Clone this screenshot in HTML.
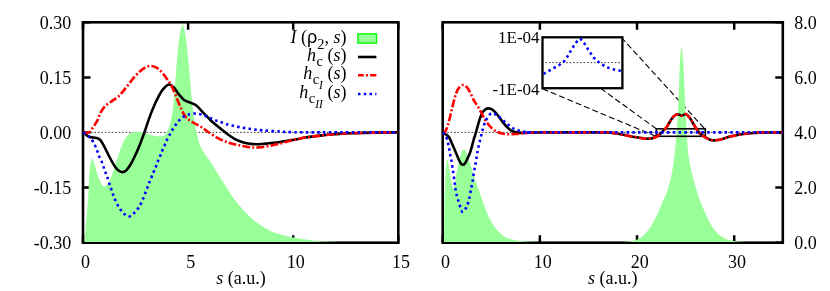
<!DOCTYPE html>
<html><head><meta charset="utf-8"><title>plot</title>
<style>html,body{margin:0;padding:0;background:#fff;}svg{display:block;will-change:transform;}text{font-family:"Liberation Serif",serif;fill:#000;}.sans{font-family:"Liberation Sans",sans-serif;}</style>
</head><body>
<svg width="830" height="291" viewBox="0 0 830 291">
<rect x="0" y="0" width="830" height="291" fill="#ffffff"/>
<path d="M83.00,242.70V235.20 M83.00,22.30V29.80 M188.10,242.70V235.20 M188.10,22.30V29.80 M293.20,242.70V235.20 M293.20,22.30V29.80 M398.30,242.70V235.20 M398.30,22.30V29.80 M83.00,22.30H90.50 M83.00,77.40H90.50 M83.00,132.50H90.50 M83.00,187.60H90.50 M83.00,242.70H90.50 " stroke="#000" stroke-width="2.50" fill="none"/><rect x="83.00" y="22.30" width="315.30" height="220.40" fill="none" stroke="#000" stroke-width="2.60"/>
<path d="M84.00,132.40H398.30" stroke="#222" stroke-width="0.9" stroke-dasharray="1.6 1.87" fill="none"/>
<path d="M84.60,242.10 C84.75,240.08 84.93,237.02 85.50,230.00 C86.07,222.98 87.47,207.00 88.00,200.00 C88.53,193.00 88.52,192.02 88.70,188.00 C88.88,183.98 88.82,179.73 89.10,175.90 C89.38,172.07 90.00,167.65 90.40,165.00 C90.80,162.35 91.18,161.12 91.50,160.00 C91.82,158.88 92.17,158.58 92.30,158.30 C92.45,158.58 92.79,158.88 93.20,160.00 C93.61,161.12 93.97,162.35 94.75,165.00 C95.53,167.65 96.86,172.90 97.90,175.90 C98.94,178.90 99.95,181.22 101.00,183.00 C102.05,184.78 103.12,186.43 104.20,186.60 C105.28,186.77 106.27,185.78 107.50,184.00 C108.73,182.22 110.18,179.48 111.60,175.90 C113.02,172.32 114.64,166.61 116.00,162.50 C117.36,158.39 118.40,154.92 119.75,151.25 C121.10,147.58 122.69,143.21 124.10,140.50 C125.51,137.79 126.88,136.32 128.20,135.00 C129.52,133.68 130.53,133.13 132.00,132.60 C133.47,132.07 135.33,131.85 137.00,131.80 C138.67,131.75 140.33,131.97 142.00,132.30 C143.67,132.63 145.32,133.30 147.00,133.80 C148.68,134.30 150.00,134.85 152.10,135.30 C154.20,135.75 157.58,136.50 159.60,136.50 C161.62,136.50 162.93,136.13 164.20,135.30 C165.47,134.47 166.20,133.52 167.20,131.50 C168.20,129.48 169.32,126.60 170.20,123.20 C171.08,119.80 171.83,115.63 172.50,111.10 C173.17,106.57 173.68,101.52 174.20,96.00 C174.72,90.48 175.08,84.67 175.60,78.00 C176.12,71.33 176.62,63.17 177.30,56.00 C177.98,48.83 178.80,40.45 179.70,35.00 C180.60,29.55 182.20,25.25 182.70,23.30 C183.17,25.25 184.63,29.55 185.50,35.00 C186.37,40.45 187.13,48.72 187.90,56.00 C188.67,63.28 189.50,72.03 190.10,78.70 C190.70,85.37 191.07,91.12 191.50,96.00 C191.93,100.88 192.22,104.00 192.70,108.00 C193.18,112.00 193.88,116.62 194.40,120.00 C194.92,123.38 195.30,125.55 195.80,128.30 C196.30,131.05 196.72,133.75 197.40,136.50 C198.08,139.25 198.85,142.22 199.90,144.80 C200.95,147.38 202.28,149.67 203.70,152.00 C205.12,154.33 206.60,156.08 208.40,158.80 C210.20,161.52 212.43,165.00 214.50,168.30 C216.57,171.60 218.58,175.05 220.80,178.60 C223.02,182.15 225.53,186.10 227.80,189.60 C230.07,193.10 231.90,196.28 234.40,199.60 C236.90,202.92 240.20,206.62 242.80,209.50 C245.40,212.38 247.20,214.38 250.00,216.90 C252.80,219.42 256.40,222.35 259.60,224.60 C262.80,226.85 265.67,228.73 269.20,230.40 C272.73,232.07 276.78,233.40 280.80,234.60 C284.82,235.80 289.13,236.77 293.30,237.60 C297.47,238.43 301.35,239.00 305.80,239.60 C310.25,240.20 314.30,240.82 320.00,241.20 C325.70,241.58 335.00,241.75 340.00,241.90 C345.00,242.05 348.33,242.07 350.00,242.10 Z" fill="#99ff99" stroke="none"/>
<path d="M83.30,132.50 C83.58,132.68 84.22,132.97 85.00,133.60 C85.78,134.23 86.90,135.67 88.00,136.30 C89.10,136.93 90.22,137.13 91.60,137.40 C92.97,137.67 94.78,137.43 96.25,137.90 C97.72,138.37 98.98,138.60 100.40,140.20 C101.82,141.80 103.19,144.62 104.75,147.50 C106.31,150.38 108.08,154.38 109.75,157.50 C111.42,160.62 113.29,164.07 114.75,166.25 C116.21,168.43 117.25,169.62 118.50,170.60 C119.75,171.57 121.00,172.10 122.25,172.10 C123.50,172.10 124.54,171.99 126.00,170.60 C127.46,169.21 129.33,166.56 131.00,163.75 C132.67,160.94 134.54,156.88 136.00,153.75 C137.46,150.62 138.78,147.38 139.75,145.00 C140.72,142.62 141.01,141.62 141.80,139.50 C142.59,137.38 143.55,135.02 144.50,132.30 C145.45,129.58 146.37,126.48 147.50,123.20 C148.63,119.92 150.03,115.87 151.30,112.60 C152.57,109.33 154.17,105.73 155.10,103.60 C156.03,101.47 155.85,101.82 156.90,99.80 C157.95,97.78 159.90,93.77 161.40,91.50 C162.90,89.23 164.52,87.37 165.90,86.20 C167.28,85.03 168.30,84.20 169.70,84.50 C171.10,84.80 172.75,86.32 174.30,88.00 C175.85,89.68 177.37,92.60 179.00,94.60 C180.63,96.60 182.28,98.68 184.10,100.00 C185.92,101.32 187.97,101.67 189.90,102.50 C191.83,103.33 193.45,103.28 195.70,105.00 C197.95,106.72 200.97,110.30 203.40,112.80 C205.83,115.30 208.03,117.83 210.30,120.00 C212.57,122.17 214.80,123.97 217.00,125.80 C219.20,127.63 221.50,129.43 223.50,131.00 C225.50,132.57 227.17,133.90 229.00,135.20 C230.83,136.50 232.67,137.78 234.50,138.80 C236.33,139.82 238.17,140.60 240.00,141.30 C241.83,142.00 243.75,142.57 245.50,143.00 C247.25,143.43 248.77,143.70 250.50,143.90 C252.23,144.10 253.98,144.18 255.90,144.20 C257.82,144.22 259.88,144.15 262.00,144.00 C264.12,143.85 265.60,143.63 268.60,143.30 C271.60,142.97 276.70,142.45 280.00,142.00 C283.30,141.55 285.58,141.07 288.40,140.60 C291.22,140.13 294.08,139.72 296.90,139.20 C299.72,138.68 302.50,137.97 305.30,137.50 C308.10,137.03 310.88,136.75 313.70,136.40 C316.52,136.05 319.38,135.72 322.20,135.40 C325.02,135.08 327.80,134.75 330.60,134.50 C333.40,134.25 335.77,134.10 339.00,133.90 C342.23,133.70 346.17,133.47 350.00,133.30 C353.83,133.13 357.83,133.02 362.00,132.90 C366.17,132.78 369.00,132.68 375.00,132.60 C381.00,132.52 394.17,132.43 398.00,132.40" stroke="#000" stroke-width="2.60" fill="none" stroke-linejoin="round"/>
<path d="M83.30,132.60 C83.88,132.63 85.68,132.97 86.80,132.80 C87.92,132.63 88.83,132.70 90.00,131.60 C91.17,130.50 92.53,128.10 93.80,126.20 C95.07,124.30 96.50,122.40 97.60,120.20 C98.70,118.00 99.23,115.27 100.40,113.00 C101.57,110.73 103.20,108.22 104.60,106.60 C106.00,104.98 107.58,104.22 108.80,103.30 C110.02,102.38 110.30,102.23 111.90,101.10 C113.50,99.97 116.52,98.15 118.40,96.50 C120.28,94.85 121.52,93.22 123.20,91.20 C124.88,89.18 126.73,86.67 128.50,84.40 C130.27,82.13 131.92,79.75 133.80,77.60 C135.68,75.45 137.93,73.17 139.80,71.50 C141.67,69.83 143.23,68.53 145.00,67.60 C146.77,66.67 148.42,65.87 150.40,65.90 C152.38,65.93 154.82,66.55 156.90,67.80 C158.98,69.05 161.08,71.33 162.90,73.40 C164.72,75.47 166.28,77.93 167.80,80.20 C169.32,82.47 170.57,84.17 172.00,87.00 C173.43,89.83 174.87,93.57 176.40,97.20 C177.93,100.83 179.62,105.47 181.20,108.80 C182.78,112.13 184.05,115.00 185.90,117.20 C187.75,119.40 189.95,120.50 192.30,122.00 C194.65,123.50 197.45,124.62 200.00,126.20 C202.55,127.78 204.47,129.42 207.60,131.50 C210.73,133.58 215.00,136.75 218.80,138.70 C222.60,140.65 226.87,142.08 230.40,143.20 C233.93,144.32 236.80,144.73 240.00,145.40 C243.20,146.07 246.38,146.87 249.60,147.20 C252.82,147.53 255.77,147.67 259.30,147.40 C262.83,147.13 267.35,146.23 270.80,145.60 C274.25,144.97 277.07,144.33 280.00,143.60 C282.93,142.87 285.58,141.93 288.40,141.20 C291.22,140.47 294.08,139.82 296.90,139.20 C299.72,138.58 302.50,137.97 305.30,137.50 C308.10,137.03 310.88,136.75 313.70,136.40 C316.52,136.05 319.38,135.72 322.20,135.40 C325.02,135.08 327.80,134.75 330.60,134.50 C333.40,134.25 335.77,134.10 339.00,133.90 C342.23,133.70 346.17,133.47 350.00,133.30 C353.83,133.13 357.83,133.02 362.00,132.90 C366.17,132.78 369.00,132.68 375.00,132.60 C381.00,132.52 394.17,132.43 398.00,132.40" stroke="#ff0000" stroke-width="2.60" fill="none" stroke-dasharray="7.9 2.15 2.0 2.15"/>
<path d="M83.30,132.50 C83.58,132.68 84.22,133.08 85.00,133.60 C85.78,134.12 86.96,134.74 88.00,135.60 C89.04,136.46 90.12,137.18 91.25,138.75 C92.38,140.32 93.75,142.96 94.75,145.00 C95.75,147.04 96.53,149.12 97.25,151.00 C97.97,152.88 98.38,154.50 99.10,156.25 C99.82,158.00 100.87,159.72 101.60,161.50 C102.33,163.28 102.87,165.11 103.50,166.90 C104.13,168.69 104.82,170.68 105.40,172.25 C105.98,173.82 106.10,173.68 107.00,176.30 C107.90,178.93 109.52,184.28 110.80,188.00 C112.08,191.72 113.25,195.23 114.70,198.60 C116.15,201.97 117.90,205.63 119.50,208.20 C121.10,210.77 122.68,212.62 124.30,214.00 C125.92,215.38 127.58,216.63 129.20,216.50 C130.82,216.37 132.40,214.73 134.00,213.20 C135.60,211.67 137.35,209.57 138.80,207.30 C140.25,205.03 141.42,202.50 142.70,199.60 C143.98,196.70 145.30,193.00 146.50,189.90 C147.70,186.80 148.73,183.94 149.90,181.00 C151.07,178.06 152.48,174.67 153.50,172.25 C154.52,169.83 155.27,168.33 156.00,166.50 C156.73,164.67 157.17,163.07 157.90,161.25 C158.63,159.43 159.68,157.38 160.40,155.60 C161.12,153.82 161.53,152.37 162.25,150.60 C162.97,148.83 163.92,146.88 164.75,145.00 C165.58,143.12 166.34,141.17 167.25,139.30 C168.16,137.43 169.21,135.60 170.20,133.80 C171.19,132.00 172.18,130.13 173.20,128.50 C174.22,126.87 175.17,125.48 176.30,124.00 C177.43,122.52 178.72,120.88 180.00,119.60 C181.28,118.32 182.53,117.17 184.00,116.30 C185.47,115.43 186.90,114.87 188.80,114.40 C190.70,113.93 193.32,113.48 195.40,113.50 C197.48,113.52 199.35,114.00 201.30,114.50 C203.25,115.00 205.17,115.72 207.10,116.50 C209.03,117.28 210.97,118.38 212.90,119.20 C214.83,120.02 216.62,120.65 218.70,121.40 C220.78,122.15 223.17,123.00 225.40,123.70 C227.63,124.40 229.67,125.02 232.10,125.60 C234.53,126.18 236.85,126.63 240.00,127.20 C243.15,127.77 247.15,128.47 251.00,129.00 C254.85,129.53 258.33,130.00 263.10,130.40 C267.87,130.80 275.12,131.12 279.60,131.40 C284.08,131.68 283.27,131.93 290.00,132.10 C296.73,132.27 302.00,132.35 320.00,132.40 C338.00,132.45 385.00,132.40 398.00,132.40" stroke="#0000ff" stroke-width="2.60" fill="none" stroke-dasharray="2.5 3.25"/>
<path d="M442.70,242.70V235.20 M442.70,22.30V29.80 M539.87,242.70V235.20 M539.87,22.30V29.80 M637.04,242.70V235.20 M637.04,22.30V29.80 M734.21,242.70V235.20 M734.21,22.30V29.80 M782.80,22.30H775.30 M782.80,77.40H775.30 M782.80,132.50H775.30 M782.80,187.60H775.30 M782.80,242.70H775.30 " stroke="#000" stroke-width="2.50" fill="none"/><rect x="442.70" y="22.30" width="340.10" height="220.40" fill="none" stroke="#000" stroke-width="2.60"/>
<path d="M542.50,88.80L656.30,136.50 M542.50,46.00L656.30,128.80 M621.20,37.30L704.70,128.80" stroke="#000" stroke-width="1.1" stroke-dasharray="6 3" fill="none"/>
<path d="M443.70,132.40H782.80" stroke="#222" stroke-width="0.9" stroke-dasharray="1.6 1.87" fill="none"/>
<path d="M444.20,242.10 C444.27,235.08 444.40,211.02 444.60,200.00 C444.80,188.98 445.13,181.83 445.40,176.00 C445.67,170.17 445.97,167.57 446.20,165.00 C446.43,162.43 446.62,161.62 446.80,160.60 C446.98,159.58 447.12,158.90 447.30,158.90 C447.48,158.90 447.68,159.58 447.90,160.60 C448.12,161.62 448.18,162.43 448.60,165.00 C449.02,167.57 449.83,172.83 450.40,176.00 C450.97,179.17 451.48,181.93 452.00,184.00 C452.52,186.07 453.00,188.40 453.50,188.40 C454.00,188.40 454.58,186.07 455.00,184.00 C455.42,181.93 455.40,179.57 456.00,176.00 C456.60,172.43 457.75,166.30 458.60,162.60 C459.45,158.90 460.45,155.80 461.10,153.80 C461.75,151.80 462.05,151.32 462.50,150.60 C462.95,149.88 463.35,149.50 463.80,149.50 C464.25,149.50 464.62,149.68 465.20,150.60 C465.78,151.52 466.42,152.60 467.30,155.00 C468.18,157.40 469.38,161.50 470.50,165.00 C471.62,168.50 472.53,171.68 474.00,176.00 C475.47,180.32 477.58,185.95 479.30,190.90 C481.02,195.85 482.65,201.17 484.30,205.70 C485.95,210.23 487.35,214.38 489.20,218.10 C491.05,221.82 493.13,225.12 495.40,228.00 C497.67,230.88 500.32,233.55 502.80,235.40 C505.28,237.25 507.40,238.18 510.30,239.10 C513.20,240.02 516.08,240.45 520.20,240.90 C524.32,241.35 530.87,241.60 535.00,241.80 C539.13,242.00 543.33,242.05 545.00,242.10 Z" fill="#99ff99" stroke="none"/>
<path d="M622.00,242.10 C623.65,241.92 628.97,241.65 631.90,241.00 C634.83,240.35 637.35,239.47 639.60,238.20 C641.85,236.93 643.47,235.48 645.40,233.40 C647.33,231.32 649.27,228.75 651.20,225.70 C653.13,222.65 655.07,219.12 657.00,215.10 C658.93,211.08 661.03,205.78 662.80,201.60 C664.57,197.42 666.07,194.83 667.60,190.00 C669.13,185.17 670.82,178.72 672.00,172.60 C673.18,166.48 673.95,159.73 674.70,153.30 C675.45,146.87 676.02,139.88 676.50,134.00 C676.98,128.12 677.20,125.33 677.60,118.00 C678.00,110.67 678.53,98.83 678.90,90.00 C679.27,81.17 679.45,71.67 679.80,65.00 C680.15,58.33 680.70,53.03 681.00,50.00 C681.30,46.97 681.50,47.33 681.60,46.80 C681.70,47.33 681.90,46.97 682.20,50.00 C682.50,53.03 683.00,58.33 683.40,65.00 C683.80,71.67 684.18,81.17 684.60,90.00 C685.02,98.83 685.52,110.67 685.90,118.00 C686.28,125.33 686.52,128.12 686.90,134.00 C687.28,139.88 687.40,146.87 688.20,153.30 C689.00,159.73 690.32,166.48 691.70,172.60 C693.08,178.72 695.05,185.17 696.50,190.00 C697.95,194.83 698.95,197.75 700.40,201.60 C701.85,205.45 703.43,209.25 705.20,213.10 C706.97,216.95 709.08,221.48 711.00,224.70 C712.92,227.92 714.45,230.15 716.70,232.40 C718.95,234.65 721.60,236.77 724.50,238.20 C727.40,239.63 730.18,240.35 734.10,241.00 C738.02,241.65 745.68,241.92 748.00,242.10 Z" fill="#99ff99" stroke="none"/>
<rect x="656.30" y="128.80" width="49.00" height="7.50" fill="none" stroke="#000" stroke-width="1.6"/>
<path d="M443.00,132.50 C443.15,132.58 442.95,132.28 443.90,133.00 C444.85,133.72 447.62,135.63 448.70,136.80 C449.78,137.97 449.38,137.80 450.40,140.00 C451.42,142.20 453.37,146.67 454.80,150.00 C456.23,153.33 457.97,157.73 459.00,160.00 C460.03,162.27 460.35,162.82 461.00,163.60 C461.65,164.38 462.27,164.70 462.90,164.70 C463.53,164.70 464.15,164.38 464.80,163.60 C465.45,162.82 465.85,162.05 466.80,160.00 C467.75,157.95 469.37,154.63 470.50,151.30 C471.63,147.97 472.87,142.57 473.60,140.00 C474.33,137.43 474.27,138.03 474.90,135.90 C475.53,133.77 476.57,130.08 477.40,127.20 C478.23,124.32 479.07,121.07 479.90,118.60 C480.73,116.13 481.47,113.95 482.40,112.40 C483.33,110.85 484.47,109.97 485.50,109.30 C486.53,108.63 487.47,108.35 488.60,108.40 C489.73,108.45 491.07,108.83 492.30,109.60 C493.53,110.37 494.77,111.62 496.00,113.00 C497.23,114.38 498.47,116.25 499.70,117.90 C500.93,119.55 502.17,121.35 503.40,122.90 C504.63,124.45 505.87,125.97 507.10,127.20 C508.33,128.43 509.35,129.45 510.80,130.30 C512.25,131.15 513.95,131.87 515.80,132.30 C517.65,132.73 519.63,132.83 521.90,132.90 C524.17,132.97 526.50,132.77 529.40,132.70 C532.30,132.63 534.20,132.55 539.30,132.50 C544.40,132.45 552.38,132.42 560.00,132.40 C567.62,132.38 578.67,132.40 585.00,132.40 C591.33,132.40 594.33,132.40 598.00,132.40 C601.67,132.40 604.75,132.33 607.00,132.40 C609.25,132.47 609.88,132.62 611.50,132.80 C613.12,132.98 614.35,133.10 616.70,133.50 C619.05,133.90 622.62,134.62 625.60,135.20 C628.58,135.78 631.60,136.47 634.60,137.00 C637.60,137.53 641.20,138.12 643.60,138.40 C646.00,138.68 647.30,138.80 649.00,138.70 C650.70,138.60 652.17,138.40 653.80,137.80 C655.43,137.20 657.33,136.18 658.80,135.10 C660.27,134.02 661.35,132.57 662.60,131.30 C663.85,130.03 665.05,129.17 666.30,127.50 C667.55,125.83 668.85,123.17 670.10,121.30 C671.35,119.43 672.55,117.47 673.80,116.30 C675.05,115.13 676.23,114.42 677.60,114.30 C678.97,114.18 680.65,115.65 682.00,115.60 C683.35,115.55 684.45,113.68 685.70,114.00 C686.95,114.32 688.35,116.08 689.50,117.50 C690.65,118.92 691.45,120.62 692.60,122.50 C693.75,124.38 695.13,126.92 696.40,128.80 C697.67,130.68 698.73,132.40 700.20,133.80 C701.67,135.20 703.53,136.22 705.20,137.20 C706.87,138.18 708.53,139.18 710.20,139.70 C711.87,140.22 713.13,140.43 715.20,140.30 C717.27,140.17 720.12,139.52 722.60,138.90 C725.08,138.28 727.18,137.33 730.10,136.60 C733.02,135.87 736.77,135.07 740.10,134.50 C743.43,133.93 746.78,133.51 750.10,133.20 C753.42,132.89 756.52,132.78 760.00,132.65 C763.48,132.53 767.22,132.49 771.00,132.45 C774.78,132.41 780.75,132.41 782.70,132.40" stroke="#000" stroke-width="2.60" fill="none" stroke-linejoin="round"/>
<path d="M443.00,132.60 C443.30,132.57 443.95,133.77 444.80,132.40 C445.65,131.03 447.00,127.93 448.10,124.40 C449.20,120.87 450.30,115.60 451.40,111.20 C452.50,106.80 453.60,101.67 454.70,98.00 C455.80,94.33 456.62,91.37 458.00,89.20 C459.38,87.03 461.35,85.10 463.00,85.00 C464.65,84.90 466.12,86.10 467.90,88.60 C469.68,91.10 472.12,97.13 473.70,100.00 C475.28,102.87 476.17,103.73 477.40,105.80 C478.63,107.87 479.87,110.17 481.10,112.40 C482.33,114.63 483.55,117.15 484.80,119.20 C486.05,121.25 487.25,123.05 488.60,124.70 C489.95,126.35 491.47,127.90 492.90,129.10 C494.33,130.30 495.65,131.15 497.20,131.90 C498.75,132.65 500.35,133.20 502.20,133.60 C504.05,134.00 506.03,134.23 508.30,134.30 C510.57,134.37 513.53,134.15 515.80,134.00 C518.07,133.85 519.63,133.60 521.90,133.40 C524.17,133.20 526.50,132.95 529.40,132.80 C532.30,132.65 534.20,132.57 539.30,132.50 C544.40,132.43 552.38,132.42 560.00,132.40 C567.62,132.38 578.67,132.40 585.00,132.40 C591.33,132.40 594.33,132.40 598.00,132.40 C601.67,132.40 604.75,132.33 607.00,132.40 C609.25,132.47 609.88,132.62 611.50,132.80 C613.12,132.98 614.35,133.10 616.70,133.50 C619.05,133.90 622.62,134.62 625.60,135.20 C628.58,135.78 631.60,136.47 634.60,137.00 C637.60,137.53 641.20,138.12 643.60,138.40 C646.00,138.68 647.30,138.80 649.00,138.70 C650.70,138.60 652.17,138.40 653.80,137.80 C655.43,137.20 657.33,136.18 658.80,135.10 C660.27,134.02 661.35,132.57 662.60,131.30 C663.85,130.03 665.05,129.17 666.30,127.50 C667.55,125.83 668.85,123.17 670.10,121.30 C671.35,119.43 672.55,117.47 673.80,116.30 C675.05,115.13 676.23,114.42 677.60,114.30 C678.97,114.18 680.65,115.65 682.00,115.60 C683.35,115.55 684.45,113.68 685.70,114.00 C686.95,114.32 688.35,116.08 689.50,117.50 C690.65,118.92 691.45,120.62 692.60,122.50 C693.75,124.38 695.13,126.92 696.40,128.80 C697.67,130.68 698.73,132.40 700.20,133.80 C701.67,135.20 703.53,136.22 705.20,137.20 C706.87,138.18 708.53,139.18 710.20,139.70 C711.87,140.22 713.13,140.43 715.20,140.30 C717.27,140.17 720.12,139.52 722.60,138.90 C725.08,138.28 727.18,137.33 730.10,136.60 C733.02,135.87 736.77,135.07 740.10,134.50 C743.43,133.93 746.78,133.51 750.10,133.20 C753.42,132.89 756.52,132.78 760.00,132.65 C763.48,132.53 767.22,132.49 771.00,132.45 C774.78,132.41 780.75,132.41 782.70,132.40" stroke="#ff0000" stroke-width="2.60" fill="none" stroke-dasharray="7.9 2.15 2.0 2.15"/>
<path d="M443.00,132.50 C443.47,133.07 444.98,134.23 445.80,135.90 C446.62,137.57 447.33,140.35 447.90,142.50 C448.47,144.65 448.82,146.75 449.20,148.80 C449.58,150.85 449.85,152.93 450.20,154.80 C450.55,156.67 450.95,158.08 451.30,160.00 C451.65,161.92 451.93,163.90 452.30,166.30 C452.67,168.70 452.92,170.30 453.50,174.40 C454.08,178.50 455.00,186.50 455.80,190.90 C456.60,195.30 457.47,197.92 458.30,200.80 C459.13,203.68 460.07,206.35 460.80,208.20 C461.53,210.05 461.80,211.98 462.70,211.90 C463.60,211.82 465.20,209.55 466.20,207.70 C467.20,205.85 467.95,203.60 468.70,200.80 C469.45,198.00 470.05,194.20 470.70,190.90 C471.35,187.60 471.95,184.78 472.60,181.00 C473.25,177.22 474.07,171.27 474.60,168.20 C475.13,165.13 475.45,164.58 475.80,162.60 C476.15,160.62 476.38,158.30 476.70,156.30 C477.02,154.30 477.33,152.48 477.70,150.60 C478.07,148.72 478.47,146.88 478.90,145.00 C479.33,143.12 479.83,141.28 480.30,139.30 C480.77,137.32 481.25,134.92 481.70,133.10 C482.15,131.28 482.48,130.10 483.00,128.40 C483.52,126.70 484.08,124.65 484.80,122.90 C485.52,121.15 486.17,119.52 487.30,117.90 C488.43,116.28 490.05,113.67 491.60,113.20 C493.15,112.73 494.95,114.17 496.60,115.10 C498.25,116.03 499.95,117.50 501.50,118.80 C503.05,120.10 504.45,121.67 505.90,122.90 C507.35,124.13 508.77,125.17 510.20,126.20 C511.63,127.23 512.85,128.32 514.50,129.10 C516.15,129.88 518.13,130.40 520.10,130.90 C522.07,131.40 524.35,131.85 526.30,132.10 C528.25,132.35 528.68,132.35 531.80,132.40 C534.92,132.45 503.18,132.40 545.00,132.40 C586.82,132.40 743.08,132.40 782.70,132.40" stroke="#0000ff" stroke-width="2.60" fill="none" stroke-dasharray="2.5 3.25"/>
<rect x="542.50" y="37.30" width="79.90" height="50.90" fill="#fff" stroke="#000" stroke-width="2.3"/>
<path d="M545.40,62.60H621.40" stroke="#222" stroke-width="0.9" stroke-dasharray="1.6 1.87" fill="none"/>
<path d="M543.60,74.00 C544.40,73.52 546.78,72.07 548.40,71.10 C550.02,70.13 551.58,69.17 553.30,68.20 C555.02,67.23 557.03,66.33 558.70,65.30 C560.37,64.27 561.97,63.28 563.30,62.00 C564.63,60.72 565.65,59.13 566.70,57.60 C567.75,56.07 568.63,54.40 569.60,52.80 C570.57,51.20 571.47,49.62 572.50,48.00 C573.53,46.38 574.60,44.62 575.80,43.10 C577.00,41.58 578.32,38.90 579.70,38.90 C581.08,38.90 582.85,41.58 584.10,43.10 C585.35,44.62 586.17,46.38 587.20,48.00 C588.23,49.62 589.22,51.20 590.30,52.80 C591.38,54.40 592.48,56.18 593.70,57.60 C594.92,59.02 596.15,60.12 597.60,61.30 C599.05,62.48 600.80,63.72 602.40,64.70 C604.00,65.68 605.43,66.45 607.20,67.20 C608.97,67.95 611.00,68.65 613.00,69.20 C615.00,69.75 617.78,70.22 619.20,70.50 C620.62,70.78 621.12,70.83 621.50,70.90" stroke="#0000ff" stroke-width="2.60" fill="none" stroke-dasharray="2.5 3.25"/>
<text x="71.30" y="28.70" font-size="18.00" text-anchor="end" >0.30</text>
<text x="71.30" y="83.80" font-size="18.00" text-anchor="end" >0.15</text>
<text x="71.30" y="138.80" font-size="18.00" text-anchor="end" >0.00</text>
<text x="71.30" y="194.00" font-size="18.00" text-anchor="end" >-0.15</text>
<text x="71.30" y="249.10" font-size="18.00" text-anchor="end" >-0.30</text>
<text x="85.60" y="267.50" font-size="18.00" text-anchor="middle" >0</text>
<text x="190.70" y="267.50" font-size="18.00" text-anchor="middle" >5</text>
<text x="295.80" y="267.50" font-size="18.00" text-anchor="middle" >10</text>
<text x="400.90" y="267.50" font-size="18.00" text-anchor="middle" >15</text>
<text x="240.95" y="283.9" font-size="18.00" text-anchor="middle"><tspan font-style="italic">s</tspan> (a.u.)</text>
<text x="445.50" y="267.50" font-size="18.00" text-anchor="middle" >0</text>
<text x="542.67" y="267.50" font-size="18.00" text-anchor="middle" >10</text>
<text x="639.84" y="267.50" font-size="18.00" text-anchor="middle" >20</text>
<text x="737.01" y="267.50" font-size="18.00" text-anchor="middle" >30</text>
<text x="612.85" y="283.9" font-size="18.00" text-anchor="middle"><tspan font-style="italic">s</tspan> (a.u.)</text>
<text x="794.20" y="28.90" font-size="18.00" text-anchor="start" >8.0</text>
<text x="794.20" y="84.00" font-size="18.00" text-anchor="start" >6.0</text>
<text x="794.20" y="139.00" font-size="18.00" text-anchor="start" >4.0</text>
<text x="794.20" y="194.20" font-size="18.00" text-anchor="start" >2.0</text>
<text x="794.20" y="249.30" font-size="18.00" text-anchor="start" >0.0</text>
<text x="539.60" y="42.80" font-size="17.00" text-anchor="end" >1E-04</text>
<text x="539.60" y="94.60" font-size="17.00" text-anchor="end" >-1E-04</text>
<text x="346.40" y="42.8" font-size="18.00" text-anchor="end"><tspan font-style="italic">I</tspan> (<tspan class="sans" font-size="18.00">ρ</tspan><tspan font-size="14.40" dy="5.8">2</tspan><tspan dy="-5.8">, </tspan><tspan font-style="italic">s</tspan>)</text>
<text x="346.40" y="60.5" font-size="18.00" text-anchor="end"><tspan font-style="italic">h</tspan><tspan font-size="14.40" dy="5.8" dx="0.5">c</tspan><tspan dy="-5.8"> (</tspan><tspan font-style="italic">s</tspan>)</text>
<text x="346.40" y="79.0" font-size="18.00" text-anchor="end"><tspan font-style="italic">h</tspan><tspan font-size="14.40" dy="5.4" dx="0.5">c</tspan><tspan font-size="11.52" dy="4.9" font-style="italic">I</tspan><tspan dy="-10.3"> (</tspan><tspan font-style="italic">s</tspan>)</text>
<text x="346.40" y="97.5" font-size="18.00" text-anchor="end"><tspan font-style="italic">h</tspan><tspan font-size="14.40" dy="5.4" dx="0.5">c</tspan><tspan font-size="11.52" dy="4.9" font-style="italic">II</tspan><tspan dy="-10.3"> (</tspan><tspan font-style="italic">s</tspan>)</text>
<rect x="357.9" y="33.9" width="18.6" height="9.2" fill="#99ff99" stroke="#00ff00" stroke-width="1.4"/>
<path d="M358,57H376.4" stroke="#000" stroke-width="2.60"/>
<path d="M358,75.3H376.4" stroke="#ff0000" stroke-width="2.60" stroke-dasharray="7.9 2.15 2.0 2.15" stroke-dashoffset="2.1"/>
<path d="M358,94H376.4" stroke="#0000ff" stroke-width="2.60" stroke-dasharray="2.5 3.25"/>
</svg>
</body></html>
